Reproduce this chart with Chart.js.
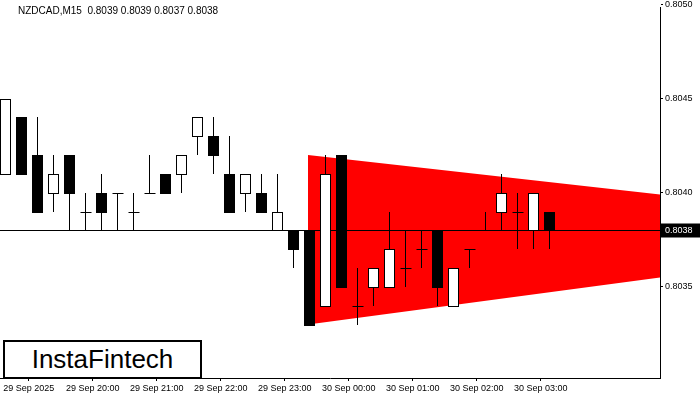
<!DOCTYPE html>
<html>
<head>
<meta charset="utf-8">
<script src="https://cdn.jsdelivr.net/npm/chart.js@4.4.1/dist/chart.umd.min.js"></script>
<style>
  html, body { margin: 0; padding: 0; background: #fff; }
  #wrap { position: relative; width: 700px; height: 400px; }
  #title { position: absolute; left: 18px; top: 5px; font: 10px Arial, "Liberation Sans", sans-serif; color: #000; }
  #logo { position: absolute; left: 3px; top: 340px; width: 195px; height: 35px; border: 2px solid #000; background: #fff;
          font: 26px Arial, "Liberation Sans", sans-serif; line-height: 35px; text-align: center; color: #000; }
</style>
</head>
<body>
<div id="wrap">
  <canvas id="c" width="700" height="400"></canvas>
  <div id="title">NZDCAD,M15&nbsp; 0.8039 0.8039 0.8037 0.8038</div>
  <div id="logo">InstaFintech</div>
</div>
<script>
// 蠟燭資料 (M15)
const opens  = [0.8041,0.8044,0.8042,0.8040,0.8042,0.8039,0.8040,0.8040,0.8039,0.8040,0.8041,0.8041,0.8043,0.8043,0.8041,0.8040,0.8040,0.8038,0.8038,0.8038,
                0.8034,0.8042,0.8034,0.8035,0.8035,0.8036,0.8037,0.8038,0.8034,0.8037,0.8038,0.8039,0.8039,0.8038,0.8039];
const highs  = [0.8045,0.8044,0.8044,0.8042,0.8042,0.8040,0.8041,0.8040,0.8040,0.8042,0.8041,0.8042,0.8044,0.8044,0.8043,0.8041,0.8041,0.8041,0.8038,0.8038,
                0.8042,0.8042,0.8036,0.8036,0.8039,0.8038,0.8038,0.8038,0.8036,0.8037,0.8039,0.8041,0.8040,0.8040,0.8039];
const lows   = [0.8041,0.8041,0.8039,0.8039,0.8038,0.8038,0.8038,0.8038,0.8038,0.8040,0.8040,0.8040,0.8042,0.8041,0.8039,0.8039,0.8039,0.8038,0.8036,0.8033,
                0.8034,0.8035,0.8033,0.8034,0.8035,0.8035,0.8036,0.8034,0.8034,0.8036,0.8038,0.8038,0.8037,0.8037,0.8037];
const closes = [0.8045,0.8041,0.8039,0.8041,0.8040,0.8039,0.8039,0.8040,0.8039,0.8040,0.8040,0.8042,0.8044,0.8042,0.8039,0.8041,0.8039,0.8039,0.8037,0.8033,
                0.8041,0.8035,0.8034,0.8036,0.8037,0.8036,0.8037,0.8035,0.8036,0.8037,0.8038,0.8040,0.8039,0.8040,0.8038];

// 時間軸標籤
const timeTicks  = [1.5, 5.5, 9.5, 13.5, 17.5, 21.5, 25.5, 29.5, 33.5];
const timeLabels = ['29 Sep 2025','29 Sep 20:00','29 Sep 21:00','29 Sep 22:00','29 Sep 23:00','30 Sep 00:00','30 Sep 01:00','30 Sep 02:00','30 Sep 03:00'];
const priceTicks = [0.8035, 0.8040, 0.8045, 0.8050];
const lastPrice = 0.8038;

// 三角形 (對稱三角形形態)
const triTop    = [{x: 18.95, y: 0.80420}, {x: 41, y: 0.80399}];
const triBottom = [{x: 18.95, y: 0.80330}, {x: 41, y: 0.80355}];

const candlePlugin = {
  id: 'candles',
  afterDatasetsDraw(chart) {
    const ctx = chart.ctx, xs = chart.scales.x, ys = chart.scales.y, a = chart.chartArea;
    ctx.save();
    ctx.beginPath(); ctx.rect(a.left, a.top, a.right - a.left, a.bottom - a.top); ctx.clip();
    // 最新價格水平線
    const py = Math.round(ys.getPixelForValue(lastPrice)) + 0.5;
    ctx.strokeStyle = '#000'; ctx.lineWidth = 1;
    ctx.beginPath(); ctx.moveTo(a.left, py); ctx.lineTo(a.right, py); ctx.stroke();
    opens.forEach((o, i) => {
      const x = Math.round(xs.getPixelForValue(i)) + 0.5;
      const yo = Math.round(ys.getPixelForValue(o)), yc = Math.round(ys.getPixelForValue(closes[i]));
      const yh = Math.round(ys.getPixelForValue(highs[i])), yl = Math.round(ys.getPixelForValue(lows[i]));
      ctx.strokeStyle = '#000'; ctx.lineWidth = 1;
      ctx.beginPath(); ctx.moveTo(x, yh); ctx.lineTo(x, yl); ctx.stroke();
      const top = Math.min(yo, yc), h = Math.abs(yo - yc);
      if (h === 0) {
        ctx.beginPath(); ctx.moveTo(x - 5, top + 0.5); ctx.lineTo(x + 6, top + 0.5); ctx.stroke();
      } else if (closes[i] > o) {
        ctx.fillStyle = '#fff'; ctx.fillRect(x - 5, top, 10, h);
        ctx.strokeRect(x - 5, top + 0.5, 10, h);
      } else {
        ctx.fillStyle = '#000'; ctx.fillRect(x - 5.5, top, 11, h + 1);
      }
    });
    ctx.restore();
    // 右側價格標籤
    ctx.save();
    ctx.fillStyle = '#000'; ctx.fillRect(a.right + 1, py - 7, 39, 14);
    ctx.fillStyle = '#fff'; ctx.font = '9px Arial, "Liberation Sans", sans-serif';
    ctx.textBaseline = 'middle'; ctx.fillText('0.8038', a.right + 5, py + 0.5);
    ctx.restore();
  }
};

new Chart(document.getElementById('c'), {
  type: 'line',
  data: {
    datasets: [
      { data: triTop, borderColor: '#ff0000', borderWidth: 0, pointRadius: 0, fill: false },
      { data: triBottom, borderColor: '#ff0000', borderWidth: 0, pointRadius: 0, fill: '-1', backgroundColor: '#ff0000' }
    ]
  },
  options: {
    responsive: false, animation: false,
    layout: { padding: 0 },
    plugins: { legend: { display: false }, tooltip: { enabled: false } },
    scales: {
      x: {
        type: 'linear', min: -0.3, max: 40.95,
        afterFit: s => { s.height = 22; },
        afterBuildTicks: s => { s.ticks = timeTicks.map(v => ({ value: v })); },
        grid: { drawOnChartArea: false, tickLength: 3, color: '#000' },
        border: { color: '#000' },
        ticks: { autoSkip: false, maxRotation: 0, padding: 2, color: '#000',
                 font: { size: 9, family: 'Arial, "Liberation Sans", sans-serif' },
                 callback: (v, i) => timeLabels[i] }
      },
      y: {
        position: 'right', min: 0.803016, max: 0.804984,
        afterFit: s => { s.width = 40; },
        afterBuildTicks: s => { s.ticks = priceTicks.map(v => ({ value: v })); },
        grid: { drawOnChartArea: false, tickLength: 3, color: '#000' },
        border: { color: '#000' },
        ticks: { padding: 2, color: '#000', font: { size: 9, family: 'Arial, "Liberation Sans", sans-serif' },
                 callback: v => v.toFixed(4) }
      }
    }
  },
  plugins: [candlePlugin]
});
</script>
</body>
</html>
